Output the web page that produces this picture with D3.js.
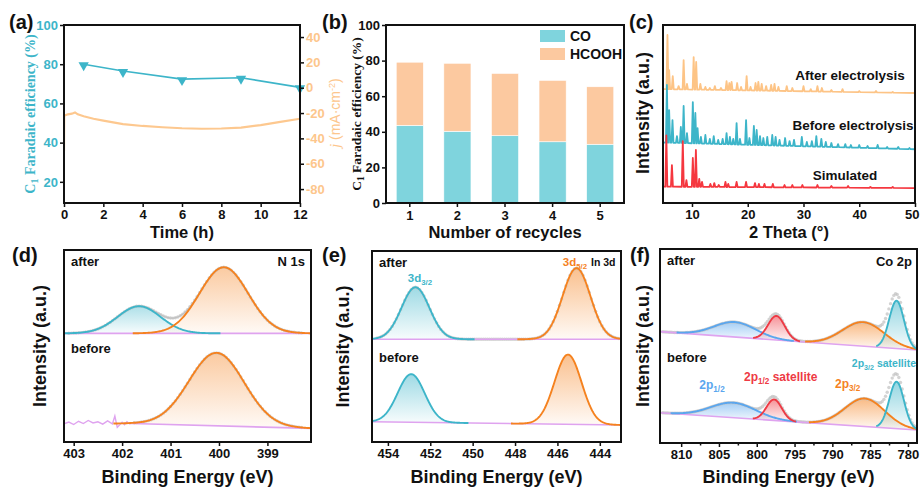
<!DOCTYPE html>
<html>
<head>
<meta charset="utf-8">
<script src="https://cdn.jsdelivr.net/npm/d3@7"></script>
<style>
  body { margin: 0; background: #fff; }
  svg text { font-family: Arial, "Liberation Sans", sans-serif; }
</style>
</head>
<body>
<svg id="canvas" width="920" height="490"></svg>
<script>
// ---------- data ----------
// (a) stability test
const feTime = [1, 3, 6, 9, 12];
const feValue = [80, 76.5, 72.4, 73.1, 68.2];
const jTime = [0, 0.01, 0.2, 0.4, 0.56, 0.7, 1, 1.5, 2, 3, 4, 5, 6, 7, 8, 9, 10, 11, 12];
const jValue = [-50, -22, -21, -20.5, -19.5, -21, -22.5, -24.5, -26, -28.8, -30.2, -31.2, -32, -32.4, -32.2, -31.5, -29.5, -27, -24.5];

// (b) recycling
const cycles = ["1", "2", "3", "4", "5"];
const coFE = [43.6, 40.3, 37.8, 34.4, 33.0];
const hcoohFE = [35.5, 38.2, 35.0, 34.5, 32.3];

// (c) XRD: baseline end points and peak tops [2theta, intensity]
const xrdNames = ["After electrolysis", "Before electrolysis", "Simulated"];
const afterBase = [[4.8, 64.0], [50, 61.8]];
const afterPeaks = [[5.6, 94.4], [5.9, 74.7], [6.55, 71.3], [7.6, 65.7], [8.5, 80.3], [9.1, 66.9], [10.3, 82], [10.75, 79.2],
  [11.5, 66.9], [12.4, 65.2], [13.2, 64.6], [14.1, 65.7], [15.2, 64.6], [16.2, 68.5], [16.7, 67.4], [17.1, 68], [18.1, 67.4],
  [18.8, 65.2], [19.8, 71.3], [20.5, 65.2], [21.4, 67.4], [21.9, 68], [22.5, 66.9], [23.3, 65.7], [24.2, 66.3], [24.8, 66.9],
  [25.5, 65.2], [27.0, 65.7], [28.0, 64.6], [30.0, 65.7], [31.3, 64], [32.5, 65.7], [33.3, 64.6], [35, 63.5], [37, 64],
  [40, 62.9], [43, 62.9], [46, 62.4]];
const beforeBase = [[4.8, 34.0], [50, 30.2]];
const beforePeaks = [[5.5, 66.3], [5.9, 52.2], [6.5, 46.6], [7.3, 37.6], [8.0, 42.7], [8.5, 54.5], [9.1, 39.3], [10.15, 56.7],
  [10.6, 50.6], [11.0, 42.1], [11.6, 37.1], [12.4, 38.2], [13.2, 36], [13.9, 37.6], [14.7, 35.4], [15.5, 36], [16.2, 39.3],
  [16.8, 37.1], [17.4, 36], [18.0, 44.9], [18.6, 36], [19.7, 46.6], [20.3, 36.5], [21.1, 43.3], [21.6, 41], [22.2, 37.6],
  [22.8, 36.5], [23.5, 37.1], [24.4, 38.2], [25.0, 37.1], [25.7, 35.4], [26.7, 36.5], [27.5, 34.8], [28.3, 35.4], [29.7, 37.1],
  [30.6, 34.3], [31.5, 34.8], [32.3, 37.6], [33.2, 36], [34.0, 34.3], [35.0, 33.7], [36.2, 33.1], [37.5, 33.1], [38.5, 32.6],
  [40.0, 32.6], [41.5, 32], [43.3, 32.6], [45, 31.5], [47, 31.5], [49, 30.9]];
const simBase = [[4.8, 9.2], [50, 8.4]];
const simPeaks = [[5.4, 38], [6.4, 21.3], [8.35, 34.8], [9.0, 12.9], [10.15, 25.3], [10.7, 29.8], [11.3, 13.5], [11.8, 11.8],
  [13.3, 10.7], [14.0, 11.2], [14.8, 10.1], [16.0, 11.8], [16.5, 10.7], [18.0, 11.8], [19.7, 11.8], [21.3, 11.2], [22.0, 10.7],
  [23.0, 10.7], [24.5, 10.7], [26.6, 10.1], [28.0, 10.1], [29.8, 10.1], [32.5, 10.1], [35, 9.6], [38, 9.6], [42, 9], [46, 9]];

// (d)-(f) XPS fits: background end points, components [centre eV, height, FWHM]
const n1sAfterBase = [[403.2, 56.6], [398.1, 56.6]];
const n1sAfterPeaks = [[401.65, 14.1, 1.05], [399.9, 34.4, 1.18]];
const n1sBeforeBase = [[401.8, 9.6], [398.1, 7.1]];
const n1sBeforePeaks = [[400.05, 38, 1.34]];
const n1sBeforeNoise = [[403.2, 9.5], [403.1, 10.4], [403.0, 9.1], [402.9, 10.8], [402.8, 9.6], [402.7, 11.2], [402.6, 9.9],
  [402.5, 10.5], [402.4, 9.3], [402.3, 11.0], [402.2, 9.4], [402.15, 13.5], [402.1, 7.6], [402.0, 10.3], [401.95, 9.0],
  [401.9, 10.6], [401.85, 9.5], [401.8, 9.6]];
const in3dAfterBase = [[454.75, 53.8], [443.0, 53.8]];
const in3dAfterPeaks = [[452.7, 27.2, 1.55], [445.1, 37.2, 1.55]];
const in3dBeforeBase = [[454.75, 10.6], [443.0, 8.9]];
const in3dBeforePeaks = [[452.9, 25.2, 1.5], [445.5, 36.5, 1.5]];
const co2pAfterBase = [[812.8, 57.4], [778.8, 47.9]];
const co2pAfterPeaks = [[802.9, 7.7, 6.5], [797.4, 12.4, 2.6], [785.9, 12.4, 6.5], [781.5, 24.7, 2.3]];
const co2pBeforeBase = [[812.8, 15.6], [778.8, 6.7]];
const co2pBeforePeaks = [[803.1, 7.7, 7.0], [797.7, 10.8, 2.4], [785.7, 14.4, 6.2], [781.5, 24.2, 2.3]];

// ---------- helpers ----------
const svg = d3.select("#canvas");
const defs = svg.append("defs");
const SANS = "Arial, 'Liberation Sans', sans-serif";
const SERIF = "'Times New Roman', 'Liberation Serif', serif";
const TEAL = "#3db5c9", ORANGE = "#f5821f", BLUE = "#5aa6ee", RED = "#ee3a44", VIOLET = "#dfa3ef";

function styleAxis(g, color) {
  g.select(".domain").remove();
  g.selectAll(".tick line").attr("stroke", "#111").attr("stroke-width", 1.5);
  g.selectAll(".tick text").attr("fill", color || "#111")
    .style("font", `bold 13px ${SANS}`);
}
function frame(x0, y0, x1, y1) {
  svg.append("rect").attr("x", x0).attr("y", y0).attr("width", x1 - x0).attr("height", y1 - y0)
    .attr("fill", "none").attr("stroke", "#111").attr("stroke-width", 2);
}
function label(t, x, y, size, opts = {}) {
  const el = svg.append("text").attr("x", x).attr("y", y).text(t)
    .attr("fill", opts.color || "#111").attr("text-anchor", opts.anchor || "start")
    .style("font", `bold ${size}px ${SANS}`);
  if (opts.rotate) el.attr("transform", `rotate(-90,${x},${y})`);
  return el;
}
function subLabel(main, sub, rest, x, y, size, color, anchor) {
  const t = svg.append("text").attr("x", x).attr("y", y).attr("fill", color)
    .attr("text-anchor", anchor || "start").style("font", `bold ${size}px ${SANS}`);
  t.append("tspan").text(main);
  t.append("tspan").text(sub).attr("dy", 3).style("font-size", (size * 0.68) + "px");
  if (rest) t.append("tspan").text(rest).attr("dy", -3);
  return t;
}
function clip(id, x0, y0, x1, y1) {
  defs.append("clipPath").attr("id", id).append("rect")
    .attr("x", x0).attr("y", y0).attr("width", x1 - x0).attr("height", y1 - y0);
  return svg.append("g").attr("clip-path", `url(#${id})`);
}

// ---------- (a) ----------
{
  const x = d3.scaleLinear([0, 12], [64, 300]);
  const yFE = d3.scaleLinear([9.2, 100], [203, 25]);
  const yJ = d3.scaleLinear([-91, 49.5], [203, 25]);
  const g = clip("clipA", 64, 25, 300, 203);

  g.append("path").datum(jTime.map((t, i) => [t, jValue[i]]))
    .attr("d", d3.line().x(d => x(d[0])).y(d => yJ(d[1])))
    .attr("fill", "none").attr("stroke", "#fdc88f").attr("stroke-width", 2.2);

  const fe = feTime.map((t, i) => [t, feValue[i]]);
  svg.append("path").datum(fe).attr("d", d3.line().x(d => x(d[0])).y(d => yFE(d[1])))
    .attr("fill", "none").attr("stroke", TEAL).attr("stroke-width", 1.6);
  svg.selectAll(".tri").data(fe).enter().append("path")
    .attr("d", d3.symbol(d3.symbolTriangle, 46))
    .attr("transform", d => `translate(${x(d[0])},${yFE(d[1]) + 1}) rotate(180)`)
    .attr("fill", TEAL);

  svg.append("g").attr("transform", "translate(0,203)")
    .call(d3.axisBottom(x).tickValues(d3.range(0, 13, 2)).tickSize(4).tickPadding(3)).call(g => styleAxis(g));
  svg.append("g").attr("transform", "translate(64,0)")
    .call(d3.axisLeft(yFE).tickValues([20, 40, 60, 80, 100]).tickSize(4).tickPadding(2)).call(g => styleAxis(g, TEAL));
  svg.append("g").attr("transform", "translate(300,0)")
    .call(d3.axisRight(yJ).tickValues([-80, -60, -40, -20, 0, 20, 40]).tickSize(4).tickPadding(2).tickFormat(d => String(d)))
    .call(g => styleAxis(g, "#fdc68c"));
  frame(64, 25, 300, 203);

  const yl = svg.append("text").attr("transform", "translate(35,114) rotate(-90)").attr("text-anchor", "middle")
    .attr("fill", TEAL).style("font", `bold 14px ${SERIF}`);
  yl.append("tspan").text("C");
  yl.append("tspan").text("1").attr("dy", 3).style("font-size", "10px");
  yl.append("tspan").text(" Faradaic efficiency (%)").attr("dy", -3);

  const jl = svg.append("text").attr("transform", "translate(340,113) rotate(-90)").attr("text-anchor", "middle")
    .attr("fill", "#fdc68c").style("font", `14px ${SANS}`);
  jl.append("tspan").text("j").style("font-style", "italic").style("font-family", SERIF);
  jl.append("tspan").text(" (mA·cm");
  jl.append("tspan").text("-2").attr("dy", -5).style("font-size", "9px");
  jl.append("tspan").text(")").attr("dy", 5);

  label("Time (h)", 182, 238, 16.5, { anchor: "middle" });
  label("(a)", 9, 29, 20);
}

// ---------- (b) ----------
{
  const x = d3.scaleBand(cycles, [386, 624]).paddingInner(0.43).paddingOuter(0.215);
  const y = d3.scaleLinear([0, 100], [203, 25]);
  const rows = cycles.map((c, i) => ({ c, CO: coFE[i], HCOOH: hcoohFE[i] }));
  const stack = d3.stack().keys(["CO", "HCOOH"])(rows);
  const colors = { CO: "#7fd4dd", HCOOH: "#fcc9a0" };
  svg.append("g").selectAll("g").data(stack).enter().append("g")
    .attr("fill", d => colors[d.key])
    .selectAll("rect").data(d => d).enter().append("rect")
    .attr("x", d => x(d.data.c)).attr("width", x.bandwidth())
    .attr("y", d => y(d[1])).attr("height", d => y(d[0]) - y(d[1]))
    .attr("stroke", "#fff").attr("stroke-width", 0.6);

  svg.append("g").attr("transform", "translate(0,203)")
    .call(d3.axisBottom(x).tickSize(4).tickPadding(4)).call(g => styleAxis(g));
  svg.append("g").attr("transform", "translate(386,0)")
    .call(d3.axisLeft(y).tickValues([0, 20, 40, 60, 80, 100]).tickSize(4).tickPadding(2)).call(g => styleAxis(g));
  frame(386, 25, 624, 203);

  ["CO", "HCOOH"].forEach((k, i) => {
    svg.append("rect").attr("x", 540).attr("y", 30 + i * 18).attr("width", 25).attr("height", 12).attr("fill", colors[k]);
    label(k, 570, 41 + i * 18, 14);
  });

  const yl = svg.append("text").attr("transform", "translate(361,114) rotate(-90)").attr("text-anchor", "middle")
    .attr("fill", "#111").style("font", `bold 13.5px ${SERIF}`);
  yl.append("tspan").text("C");
  yl.append("tspan").text("1").attr("dy", 3).style("font-size", "9.5px");
  yl.append("tspan").text(" Faradaic efficiency (%)").attr("dy", -3);

  label("Number of recycles", 505, 238, 16.5, { anchor: "middle" });
  label("(b)", 322, 29, 20);
}

// ---------- (c) ----------
{
  const x = d3.scaleLinear([4.8, 50], [663, 915]);
  const y = d3.scaleLinear([0, 100], [203, 25]);
  const g = clip("clipC", 663, 25, 915, 203);
  const w = 0.18;
  function trace(base, peaks) {
    const bl = d3.scaleLinear(base.map(d => d[0]), base.map(d => d[1]));
    const pts = [base[0]];
    peaks.forEach(([p, v]) => pts.push([p - w, bl(p - w)], [p, v], [p + w, bl(p + w)]));
    pts.push(base[1]);
    return pts;
  }
  const series = [
    [afterBase, afterPeaks, "#fdc486"],
    [beforeBase, beforePeaks, "#3db5c9"],
    [simBase, simPeaks, "#f5373f"]
  ];
  series.forEach(([b, p, col]) => {
    g.append("path").datum(trace(b, p)).attr("d", d3.line().x(d => x(d[0])).y(d => y(d[1])))
      .attr("fill", "none").attr("stroke", col).attr("stroke-width", 1.8).attr("stroke-linejoin", "round");
  });
  label(xrdNames[0], 850, 80, 13.5, { anchor: "middle" });
  label(xrdNames[1], 853, 130, 13.5, { anchor: "middle" });
  label(xrdNames[2], 845, 180, 13.5, { anchor: "middle" });

  svg.append("g").attr("transform", "translate(0,203)")
    .call(d3.axisBottom(x).tickValues([10, 20, 30, 40, 50]).tickSize(4).tickPadding(3)).call(g => styleAxis(g))
    .call(g => g.selectAll(".tick").filter(d => d === 50).select("text").attr("text-anchor", "end").attr("dx", 4));
  frame(663, 25, 915, 203);
  label("Intensity (a.u.)", 649, 113, 18, { anchor: "middle", rotate: true });
  label("2 Theta (°)", 789, 238, 16.5, { anchor: "middle" });
  label("(c)", 629, 29, 20);
}

// ---------- (d)-(f) XPS ----------
function gauss(e, c) { return c[1] * Math.exp(-4 * Math.LN2 * (e - c[0]) ** 2 / (c[2] * c[2])); }

function drawXps(p) {
  const [x0, y0, x1, y1] = p.box;
  const x = d3.scaleLinear(p.xDomain, [x0, x1]);
  const y = d3.scaleLinear([0, 100], [y1, y0]);
  const g = clip(p.id, x0, y0, x1, y1);
  const lo = d3.min(p.xDomain), hi = d3.max(p.xDomain);

  p.states.forEach((s, si) => {
    const bl = d3.scaleLinear(s.base.map(d => d[0]), s.base.map(d => d[1])).clamp(true);
    // filled components
    s.peaks.forEach((c, ci) => {
      const col = p.colors[si][ci];
      const gid = `${p.id}g${si}${ci}`;
      const lg = defs.append("linearGradient").attr("id", gid).attr("x1", 0).attr("y1", 0).attr("x2", 0).attr("y2", 1);
      lg.append("stop").attr("offset", 0).attr("stop-color", col).attr("stop-opacity", p.fillTop);
      lg.append("stop").attr("offset", 1).attr("stop-color", col).attr("stop-opacity", 0.04);
      const es = d3.range(Math.max(lo, c[0] - p.span * c[2]), Math.min(hi, c[0] + p.span * c[2]), p.step);
      c.range = es;
      g.append("path").datum(es)
        .attr("d", d3.area().x(e => x(e)).y0(e => y(bl(e))).y1(e => y(bl(e) + gauss(e, c))))
        .attr("fill", `url(#${gid})`);
    });
    // measured points along the fitted envelope
    const env = e => bl(e) + d3.sum(s.peaks, c => gauss(e, c));
    if (s.dots) {
      if (s.envelope) {
        g.append("path").datum(d3.range(s.dots[0], s.dots[1], p.step))
          .attr("d", d3.line().x(e => x(e)).y(e => y(env(e))))
          .attr("fill", "none").attr("stroke", "#b5b5b5").attr("stroke-width", 1.3);
      }
      g.selectAll(null).data(d3.range(s.dots[0], s.dots[1], s.dots[2])).enter().append("circle")
        .attr("cx", e => x(e)).attr("cy", e => y(env(e))).attr("r", 1.7)
        .attr("fill", "#c4c4c4").attr("fill-opacity", 0.75);
    }
    // background
    g.append("path").datum(s.base).attr("d", d3.line().x(d => x(d[0])).y(d => y(d[1])))
      .attr("fill", "none").attr("stroke", VIOLET).attr("stroke-width", 1.6);
    if (s.noise) {
      g.append("path").datum(s.noise).attr("d", d3.line().x(d => x(d[0])).y(d => y(d[1])))
        .attr("fill", "none").attr("stroke", VIOLET).attr("stroke-width", 1.4);
    }
    // component lines
    s.peaks.forEach((c, ci) => {
      g.append("path").datum(c.range)
        .attr("d", d3.line().x(e => x(e)).y(e => y(bl(e) + gauss(e, c))))
        .attr("fill", "none").attr("stroke", p.colors[si][ci]).attr("stroke-width", 1.9);
    });
  });

  svg.append("g").attr("transform", `translate(0,${y1})`)
    .call(d3.axisBottom(x).tickValues(p.ticks).tickSize(4).tickPadding(3).tickFormat(d3.format("d")))
    .call(g => styleAxis(g));
  if (p.minor) {
    svg.append("g").attr("transform", `translate(0,${y1})`)
      .call(d3.axisBottom(x).tickValues(p.minor).tickSize(2.5).tickFormat(""))
      .call(g => styleAxis(g));
  }
  frame(x0, y0, x1, y1);
  label("Intensity (a.u.)", p.ylabX, (y0 + y1) / 2, 18, { anchor: "middle", rotate: true });
  label("Binding Energy (eV)", (x0 + x1) / 2, 483, 18, { anchor: "middle" });
  label("after", x0 + 7, y0 + 16, 13);
  label("before", x0 + 7, p.beforeY, 13);
}

drawXps({
  id: "clipD", box: [64, 250, 311, 442], xDomain: [403.2, 398.1],
  ticks: [403, 402, 401, 400, 399], step: 0.02, span: 1.6, fillTop: 0.42, ylabX: 46, beforeY: 353,
  colors: [[TEAL, ORANGE], [ORANGE]],
  states: [
    { base: n1sAfterBase, peaks: n1sAfterPeaks, dots: [398.3, 403.1, 0.05], envelope: true },
    { base: n1sBeforeBase, peaks: n1sBeforePeaks, dots: [398.3, 401.8, 0.05], noise: n1sBeforeNoise }
  ]
});
label("N 1s", 305, 266, 13, { anchor: "end" });
label("(d)", 12, 262, 20);

drawXps({
  id: "clipE", box: [372, 251, 621, 442], xDomain: [454.75, 443.0],
  ticks: [454, 452, 450, 448, 446, 444], step: 0.03, span: 1.8, fillTop: 0.5, ylabX: 349, beforeY: 362,
  colors: [[TEAL, ORANGE], [TEAL, ORANGE]],
  states: [
    { base: in3dAfterBase, peaks: in3dAfterPeaks, dots: [443.1, 454.6, 0.1] },
    { base: in3dBeforeBase, peaks: in3dBeforePeaks }
  ]
});
subLabel("3d", "3/2", null, 420, 282, 11.5, TEAL, "middle");
subLabel("3d", "5/2", null, 575, 266, 11.5, ORANGE, "middle");
label("In 3d", 591, 266, 10.5);
label("(e)", 322, 262, 20);

drawXps({
  id: "clipF", box: [660, 249, 917, 443], xDomain: [812.8, 778.8],
  ticks: [810, 805, 800, 795, 790, 785, 780], minor: [807.5, 802.5, 797.5, 792.5, 787.5, 782.5],
  step: 0.1, span: 1.2, fillTop: 0.55, ylabX: 649, beforeY: 362,
  colors: [[BLUE, RED, ORANGE, TEAL], [BLUE, RED, ORANGE, TEAL]],
  states: [
    { base: co2pAfterBase, peaks: co2pAfterPeaks, dots: [779, 812.6, 0.22] },
    { base: co2pBeforeBase, peaks: co2pBeforePeaks, dots: [779, 812.6, 0.22] }
  ]
});
label("Co 2p", 912, 266, 13, { anchor: "end" });
subLabel("2p", "1/2", null, 712, 389, 12, BLUE, "middle");
subLabel("2p", "1/2", " satellite", 744, 381, 12, RED);
subLabel("2p", "3/2", null, 835, 388, 12, ORANGE);
subLabel("2p", "3/2", " satellite", 916, 367, 10.5, TEAL, "end");
label("(f)", 630, 262, 20);
</script>
</body>
</html>
